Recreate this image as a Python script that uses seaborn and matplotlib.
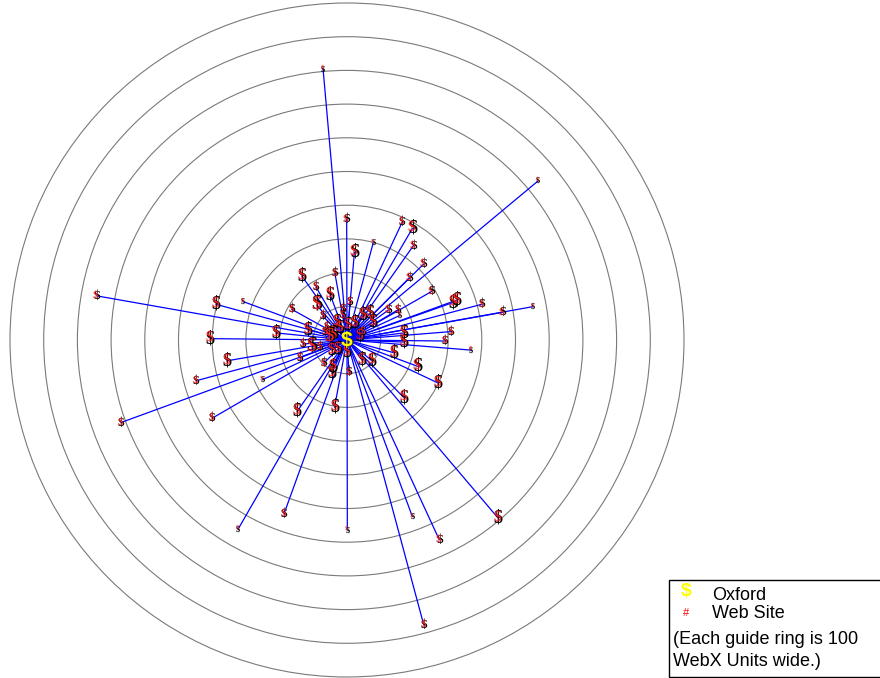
import numpy as np
import pandas as pd
import matplotlib
matplotlib.use("Agg")
import matplotlib.pyplot as plt
import matplotlib.transforms as mtransforms
from matplotlib.patches import Circle, Rectangle
import seaborn as sns

# ---- data: web-site positions relative to Oxford (WebX units) ----
site_east = [-71, 567, -743, 552, 461, 400, -671, -323, -187, 1, 194, 228, 448, 274, 368,
             -1, 164, 194, 78, 22, 197, 227, 185, 251, -134, -36, -92, -50, -90, 9,
             -164, -72, -11, -11, 123, 152, 157, 48, 68, 78, 314, 327, 309, 291, -211,
             -115, -389, -308, -406, -41, 169, 169, -357, -448, -251, -400, -131, -105, -140, -69,
             -45, -41, 6, -148, -37, 44, 73, 140, 209, 271, 169, 39, 4, -80, -45,
             -26, -1, -65, -60, 48, -50, -30, 24, -20]
site_north = [804, 472, 131, 99, 82, 106, -245, -561, -516, -564, -524, -846, -528, -593, -30,
              358, 350, 331, 289, 261, 280, 225, 184, 144, 190, 198, 157, 135, 104, 113,
              91, 71, 92, 73, 89, 90, 73, 74, 79, 54, 111, 119, 25, -3, 21,
              30, 106, 114, 4, 15, 21, -6, -62, -121, -118, -232, -12, -19, -53, -69,
              -99, -79, -96, -212, -200, -59, -61, -38, -78, -128, -171, 12, 45, -20, -30,
              -28, -36, 25, 39, 25, 10, 53, 50, 36]
# traffic level of each site (1 = lowest, 4 = highest)
site_level = [1, 1, 2, 1, 2, 2, 2, 1, 2, 1, 1, 2, 3, 2, 1,
              2, 2, 3, 1, 3, 2, 2, 2, 2, 3, 2, 2, 3, 4, 2,
              2, 2, 2, 2, 2, 2, 1, 3, 3, 3, 3, 3, 2, 2, 3,
              3, 3, 1, 3, 4, 3, 3, 3, 2, 1, 2, 2, 4, 2, 2,
              3, 3, 2, 3, 3, 3, 3, 3, 3, 3, 3, 3, 3, 2, 3,
              3, 3, 2, 2, 2, 4, 3, 3, 3]
ring_units = [100, 200, 300, 400, 500, 600, 700, 800, 900, 1000]
legend_labels = ["Oxford", "Web Site"]
note_lines = ["(Each guide ring is 100", "WebX Units wide.)"]

level_pt = {1: 5.8, 2: 9.4, 3: 13.0, 4: 16.0}

sns.set_theme(style="white")
plt.rcParams["font.family"] = ["Liberation Sans", "DejaVu Sans"]

W, H = 880, 678
fig = plt.figure(figsize=(W / 100, H / 100), dpi=100)
ax = fig.add_axes([0, 0, 1, 1])
k = 100 / 33.7  # units per pixel
cx, cy = 347, 340
ax.set_xlim(-cx * k, (W - cx) * k)
ax.set_ylim(-(H - cy) * k, cy * k)
ax.set_axis_off()

# guide rings
for r in ring_units:
    ax.add_patch(Circle((0, 0), r, fill=False, edgecolor="#7a7a7a", lw=0.8, zorder=1))

# spokes
rows = []
for i, (e, n) in enumerate(zip(site_east, site_north)):
    rows.append({"site": i, "x": 0, "y": 0})
    rows.append({"site": i, "x": e, "y": n})
df = pd.DataFrame(rows)
sns.lineplot(data=df, x="x", y="y", units="site", estimator=None, sort=False,
             color="#0000ff", lw=0.9, ax=ax, zorder=2, legend=False)
ax.set_axis_off()

# site markers: black serif dollar with a thin red dollar overprinted
off = mtransforms.offset_copy(ax.transData, fig=fig, x=-0.9, y=0.7, units="dots")
for e, n, lv in zip(site_east, site_north, site_level):
    fs = level_pt[lv]
    ax.text(e, n, "$", fontsize=fs, family="Liberation Serif", fontweight="bold",
            color="black", ha="center", va="center", zorder=3)
    ax.text(e, n, "$", fontsize=fs * 0.84, family="Liberation Serif",
            color="#ff2020", ha="center", va="center", zorder=3, transform=off)

# Oxford
sh = mtransforms.offset_copy(ax.transData, fig=fig, x=0.8, y=-0.8, units="dots")
ax.text(0, 0, "$", fontsize=15, fontweight="bold", color="#333300",
        ha="center", va="center", zorder=5, transform=sh)
ax.text(0, 0, "$", fontsize=15, fontweight="bold", color="#ffff00",
        ha="center", va="center", zorder=6)

# legend box
def fx(px):
    return px / W
def fy(py):
    return 1 - py / H

fig.patches.append(Rectangle((fx(669), fy(677)), fx(881) - fx(669), fy(580) - fy(677),
                             transform=fig.transFigure, fill=True, facecolor="white",
                             edgecolor="black", lw=1.0, zorder=10))
fig.text(fx(686), fy(592), "$", fontsize=14, fontweight="bold", color="#ffff00",
         ha="center", va="center", zorder=11)
fig.text(fx(686), fy(613), "#", fontsize=8, color="#ff0000",
         ha="center", va="center", zorder=11)
fig.text(fx(712), fy(596), legend_labels[0], fontsize=13, color="black",
         ha="left", va="center", zorder=11)
fig.text(fx(712), fy(614), legend_labels[1], fontsize=13, color="black",
         ha="left", va="center", zorder=11)
fig.text(fx(673), fy(639), note_lines[0], fontsize=13, color="black",
         ha="left", va="center", zorder=11)
fig.text(fx(673), fy(661), note_lines[1], fontsize=13, color="black",
         ha="left", va="center", zorder=11)

fig.savefig("out.png", dpi=100)
